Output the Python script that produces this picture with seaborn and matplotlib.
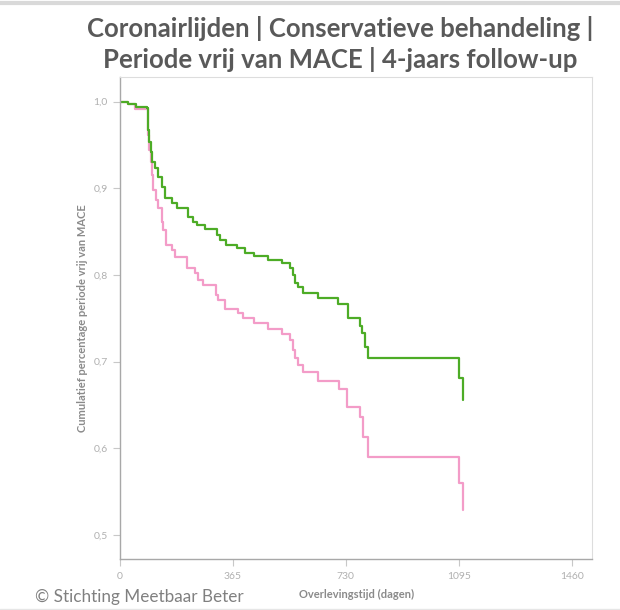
import numpy as np
import pandas as pd
import matplotlib
matplotlib.use("Agg")
import matplotlib.pyplot as plt
import seaborn as sns

# Kaplan-Meier steps: time (days) and survival after each event
green_days = [0, 27, 52, 86, 89, 92, 95, 100, 105, 113, 124, 135, 145, 167, 183,
              219, 236, 250, 275, 313, 323, 343, 379, 404, 433, 479, 525, 550,
              558, 566, 576, 591, 639, 706, 736, 776, 783, 792, 802, 1097, 1110]
green_surv = [1.0, 0.9973, 0.9942, 0.9924, 0.9812, 0.9673, 0.9535, 0.942, 0.9304,
              0.9235, 0.9135, 0.9019, 0.8889, 0.8828, 0.877, 0.8673, 0.8615,
              0.8577, 0.8531, 0.8462, 0.8404, 0.8347, 0.8308, 0.8258, 0.8223,
              0.8177, 0.8133, 0.8078, 0.80, 0.7905, 0.7858, 0.7796, 0.7739,
              0.7662, 0.7501, 0.7412, 0.7328, 0.717, 0.7039, 0.6808, 0.6558]

pink_days = [0, 27, 48, 89, 92, 95, 99, 103, 108, 116, 124, 135, 140, 149, 167,
             178, 216, 242, 253, 269, 309, 318, 339, 380, 399, 433, 479, 525,
             550, 558, 566, 576, 591, 641, 709, 735, 776, 787, 803, 1097, 1110]
pink_surv = [1.0, 0.9973, 0.9912, 0.979, 0.9616, 0.9443, 0.9304, 0.9154, 0.8981,
             0.8866, 0.877, 0.8615, 0.852, 0.8347, 0.8289, 0.8212, 0.8078,
             0.8027, 0.7943, 0.7885, 0.777, 0.7712, 0.7605, 0.7559, 0.7501,
             0.7443, 0.7377, 0.732, 0.7247, 0.7135, 0.7039, 0.6962, 0.6885,
             0.6781, 0.6682, 0.6481, 0.6366, 0.6135, 0.5895, 0.5597, 0.5289]

x_ticks = [0, 365, 730, 1095, 1460]
y_ticks = [0.5, 0.6, 0.7, 0.8, 0.9, 1.0]
y_tick_labels = ["0,5", "0,6", "0,7", "0,8", "0,9", "1,0"]

title = "Coronairlijden | Conservatieve behandeling |\nPeriode vrij van MACE | 4-jaars follow-up"
x_label = "Overlevingstijd (dagen)"
y_label = "Cumulatief percentage periode vrij van MACE"
footer = "© Stichting Meetbaar Beter"

df = pd.concat([
    pd.DataFrame({"dagen": pink_days, "overleving": pink_surv, "groep": "B"}),
    pd.DataFrame({"dagen": green_days, "overleving": green_surv, "groep": "A"}),
], ignore_index=True)

sns.set_theme(style="white")
plt.rcParams["font.family"] = ["Lato", "DejaVu Sans"]

fig = plt.figure(figsize=(6.2, 6.1), dpi=100)
ax = fig.add_axes([120 / 620, 1 - 559.3 / 610, (592.3 - 120) / 620, (559.3 - 76.7) / 610])

sns.lineplot(data=df, x="dagen", y="overleving", hue="groep",
             palette={"A": "#4dac26", "B": "#f39cc8"}, hue_order=["B", "A"],
             estimator=None, sort=True, drawstyle="steps-post",
             linewidth=1.6, legend=False, ax=ax)

ax.set_xlim(0, 1527)
ax.set_ylim(0.472, 1.0288)
ax.set_xticks(x_ticks)
ax.set_xticklabels([str(t) for t in x_ticks])
ax.set_yticks(y_ticks)
ax.set_yticklabels(y_tick_labels)

ax.tick_params(axis="both", which="major", direction="out", length=5, width=0.8,
               color="#c8c8c8", labelcolor="#b0b0b0", labelsize=7.5, pad=4)
ax.tick_params(axis="x", bottom=True)
ax.tick_params(axis="y", left=True)

for side in ("top", "right"):
    ax.spines[side].set_color("#dddddd")
    ax.spines[side].set_linewidth(0.8)
for side in ("left", "bottom"):
    ax.spines[side].set_color("#a8a8a8")
    ax.spines[side].set_linewidth(1.0)

ax.set_xlabel(x_label, fontsize=8, color="#8a8a8a", fontweight="bold", labelpad=6)
ax.set_ylabel(y_label, fontsize=8, color="#8a8a8a", fontweight="bold", labelpad=4)

fig.text(0.548, 1 - 44 / 610, title, ha="center", va="center", fontsize=18.5,
         fontweight="bold", color="#595959", linespacing=1.25)

fig.text(35 / 620, 1 - 597 / 610, footer, ha="left", va="center",
         fontsize=12.3, color="#808080")

# thin frame rules at the top and bottom edge
fig.add_artist(plt.Line2D([0, 1], [1 - 3 / 610, 1 - 3 / 610], color="#d9d9d9", lw=3))
fig.add_artist(plt.Line2D([0, 1], [1 - 608.5 / 610, 1 - 608.5 / 610], color="#e6e6e6", lw=1))

fig.savefig("out.png", dpi=100, facecolor="white")
